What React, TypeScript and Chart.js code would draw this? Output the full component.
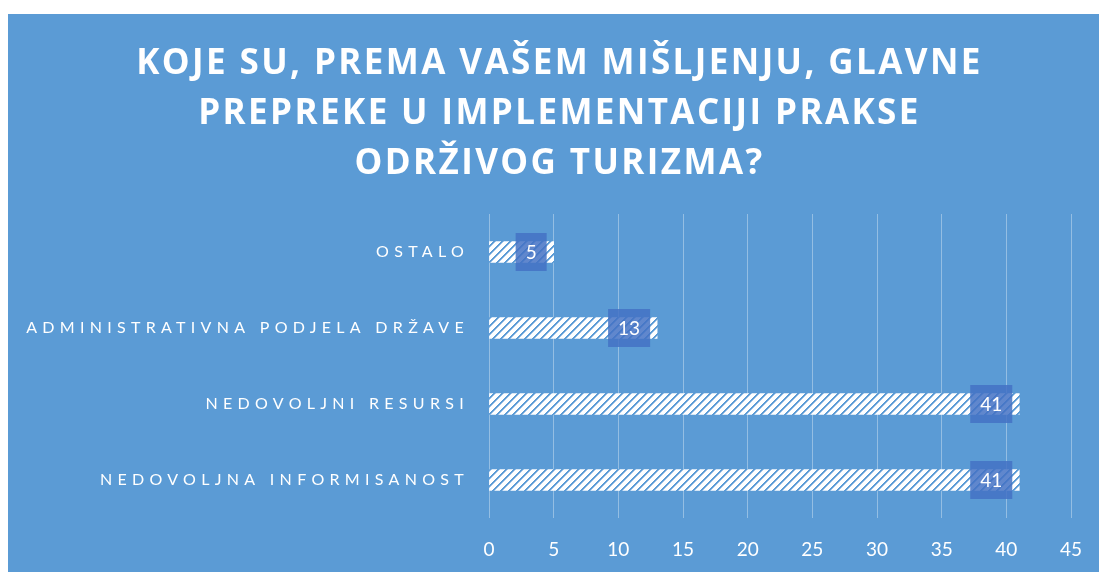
import React, { useEffect, useRef } from "react";
import { Chart, registerables } from "chart.js";

Chart.register(...registerables);

const titleLines = ["KOJE SU, PREMA VAŠEM MIŠLJENJU, GLAVNE", "PREPREKE U IMPLEMENTACIJI PRAKSE", "ODRŽIVOG TURIZMA?"];
const categories = ["OSTALO", "ADMINISTRATIVNA PODJELA DRŽAVE", "NEDOVOLJNI RESURSI", "NEDOVOLJNA INFORMISANOST"];
const values = [5, 13, 41, 41];
const xMin = 0;
const xMax = 45;
const xStep = 5;

const BG = "#5B9BD5";

function makePattern(): CanvasPattern | string {
  const c = document.createElement("canvas");
  c.width = 8;
  c.height = 8;
  const g = c.getContext("2d");
  if (!g) return "#fff";
  g.fillStyle = "#ffffff";
  g.fillRect(0, 0, 8, 8);
  for (let y = 0; y < 8; y++) {
    for (let x = 0; x < 8; x++) {
      const m = (x + y) % 8;
      if (m === 0 || m === 1) {
        g.fillStyle = BG;
        g.fillRect(x, y, 1, 1);
      } else if (m === 2) {
        g.fillStyle = "#a9c9ea";
        g.fillRect(x, y, 1, 1);
      }
    }
  }
  const p = g.createPattern(c, "repeat");
  return p || "#fff";
}

export default function App() {
  const ref = useRef<HTMLCanvasElement>(null);
  useEffect(() => {
    document.body.style.margin = "0";
    document.body.style.overflow = "hidden";
    const canvas = ref.current;
    if (!canvas) return;
    const overlay = {
      id: "overlay",
      afterDraw(chart: any) {
        const ctx = chart.ctx as CanvasRenderingContext2D;
        const W = chart.width;
        // title
        ctx.save();
        ctx.fillStyle = "#ffffff";
        ctx.font = "bold 35px 'Open Sans'";
        (ctx as any).letterSpacing = "2.4px";
        ctx.textAlign = "center";
        ctx.textBaseline = "alphabetic";
        titleLines.forEach((t, i) => {
          ctx.fillText(t, W / 2 + 6, 60 + i * 50);
        });
        ctx.restore();
        // category labels
        const y = chart.scales.y;
        ctx.save();
        ctx.fillStyle = "#ffffff";
        ctx.font = "16px Lato";
        (ctx as any).letterSpacing = "5.3px";
        ctx.textAlign = "right";
        ctx.textBaseline = "middle";
        categories.forEach((c, i) => {
          ctx.fillText(c, 461, y.getPixelForValue(i));
        });
        ctx.restore();
        // data labels
        const meta = chart.getDatasetMeta(0);
        ctx.save();
        ctx.font = "19px Lato";
        ctx.textBaseline = "middle";
        ctx.textAlign = "center";
        meta.data.forEach((bar: any, i: number) => {
          const txt = String(values[i]);
          const tw = ctx.measureText(txt).width;
          const bw = tw + 20;
          const bh = 38;
          const right = bar.x - 7;
          const left = right - bw;
          ctx.fillStyle = "rgba(68,114,196,0.85)";
          ctx.fillRect(left, bar.y - bh / 2, bw, bh);
          ctx.fillStyle = "#ffffff";
          ctx.fillText(txt, left + bw / 2, bar.y + 1);
        });
        ctx.restore();
      },
    };
    const chart = new Chart(canvas, {
      type: "bar",
      data: {
        labels: categories,
        datasets: [
          {
            data: values,
            backgroundColor: makePattern() as any,
            borderWidth: 0,
            barThickness: 21,
          },
        ],
      },
      options: {
        indexAxis: "y",
        animation: false,
        responsive: false,
        maintainAspectRatio: false,
        layout: { padding: { left: 0, top: 200, right: 28, bottom: 0 } },
        plugins: { legend: { display: false }, tooltip: { enabled: false }, title: { display: false } },
        scales: {
          x: {
            min: xMin,
            max: xMax,
            ticks: {
              stepSize: xStep,
              color: "#ffffff",
              font: { family: "Lato", size: 19 },
              padding: 20,
            },
            grid: { color: "rgba(255,255,255,0.35)", drawTicks: false, lineWidth: 1 },
            border: { display: false },
            afterFit: (s: any) => {
              s.height = 54;
              s.paddingLeft = 0;
              s.paddingRight = 0;
            },
          },
          y: {
            ticks: { display: false },
            grid: { display: false },
            border: { display: false },
            afterFit: (s: any) => {
              s.width = 481;
            },
          },
        },
      },
      plugins: [overlay],
    });
    return () => chart.destroy();
  }, []);
  return (
    <div style={{ position: "fixed", left: 8, top: 14, width: 1091, height: 558, background: BG }}>
      <canvas ref={ref} width={1091} height={558} style={{ display: "block" }} />
    </div>
  );
}
